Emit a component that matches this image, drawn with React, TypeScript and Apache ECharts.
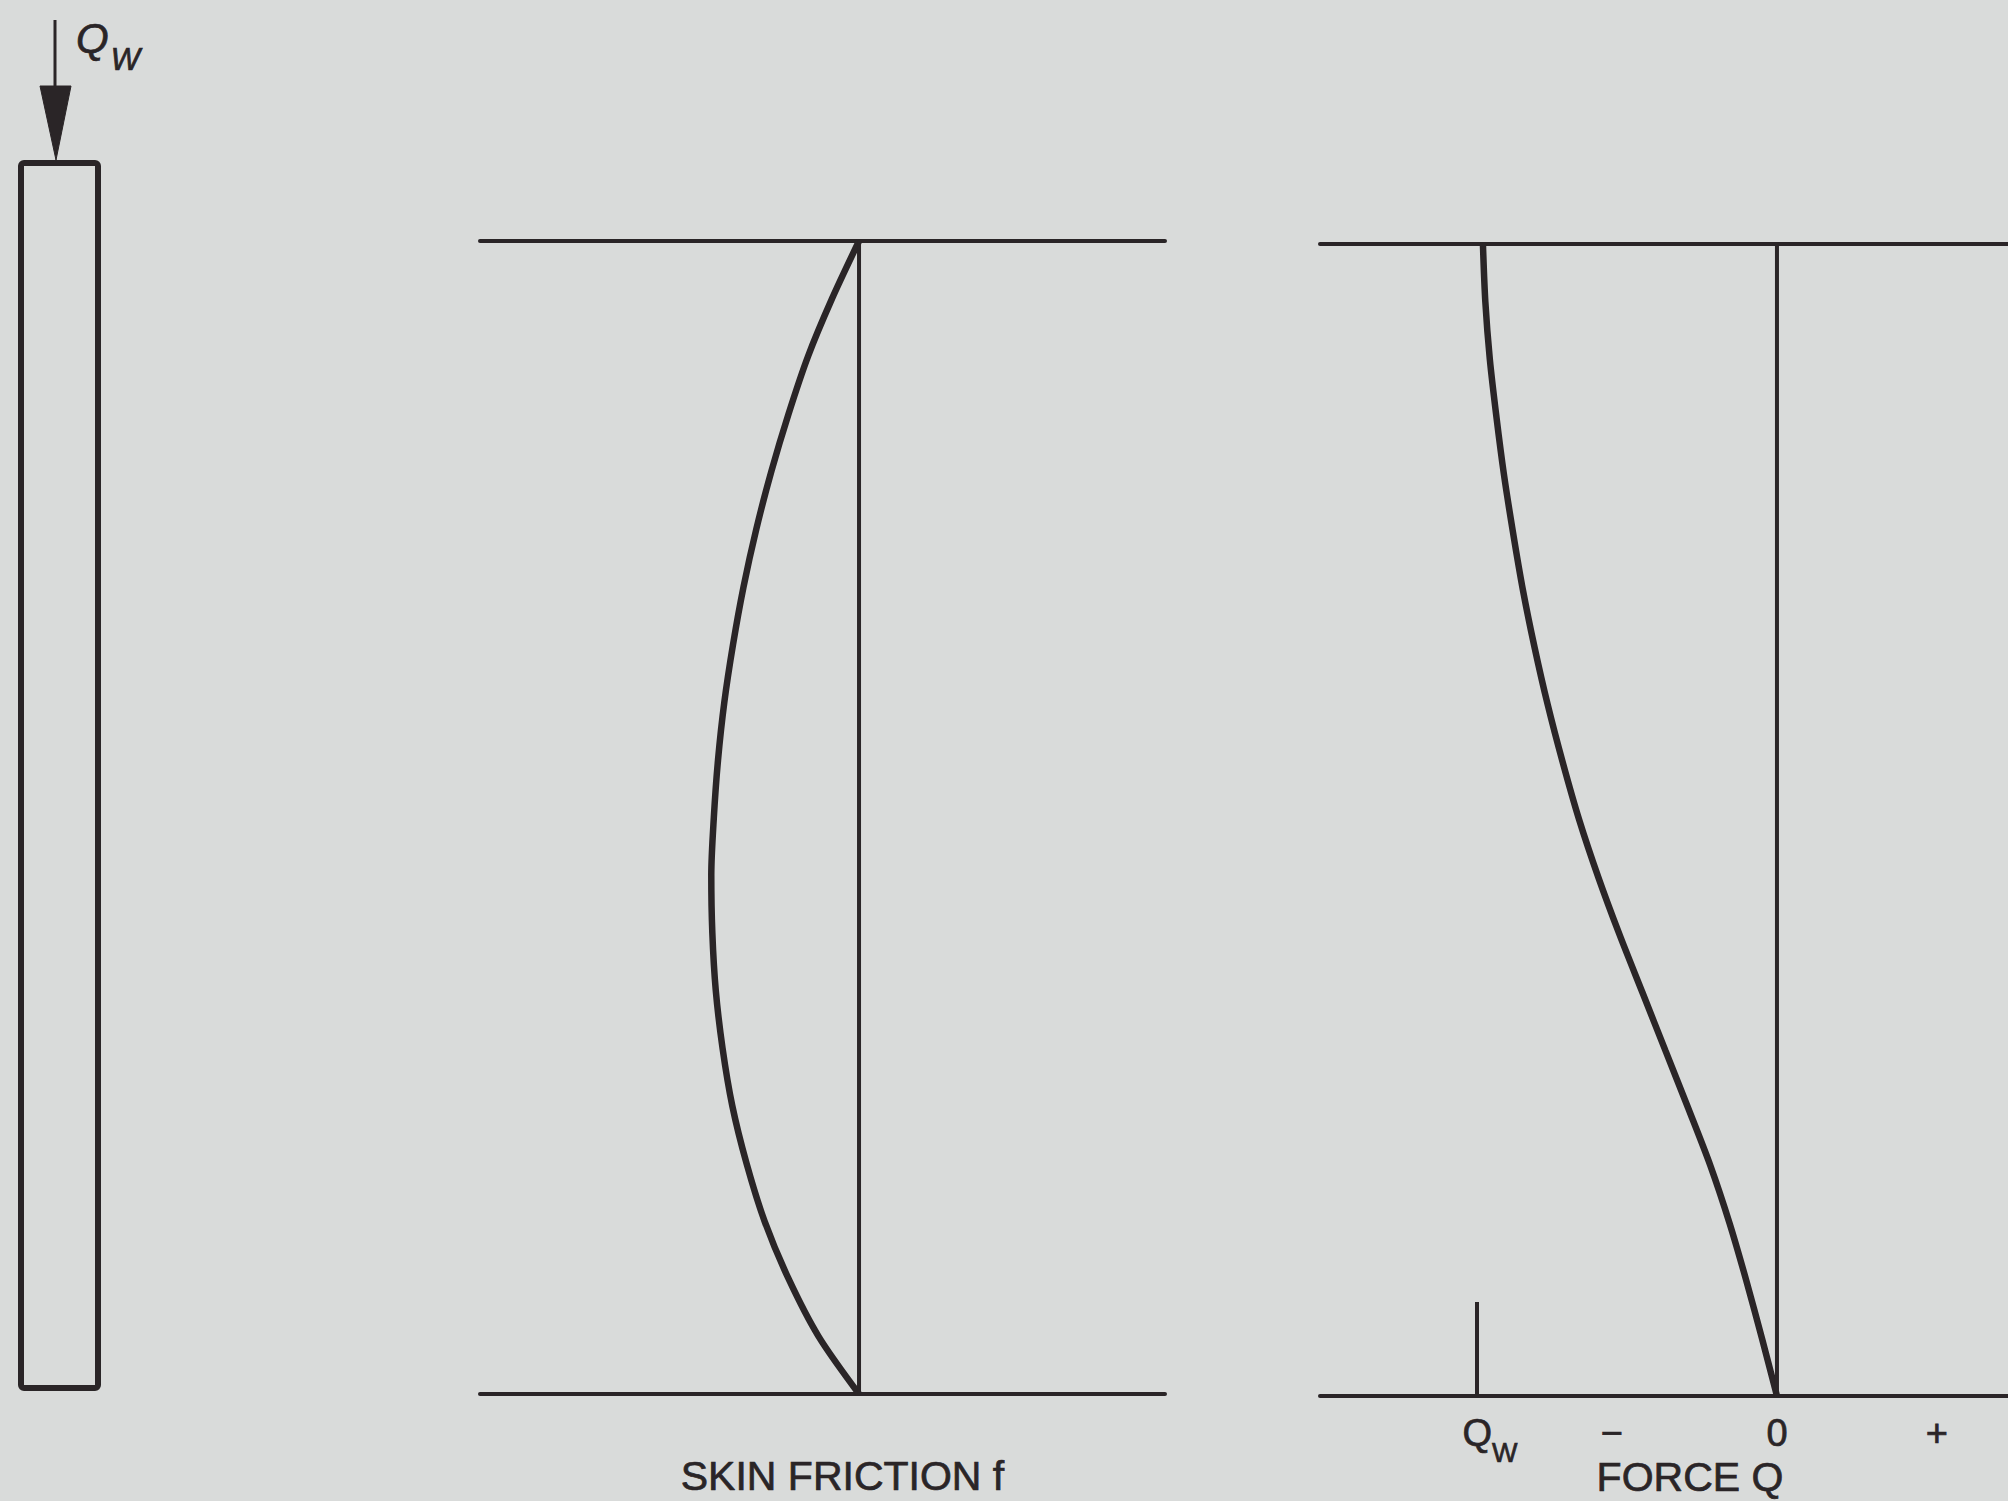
import React, { useEffect, useRef } from "react";
import * as echarts from "echarts";

// Depth along the pile, % of its length (0 = pile head)
const depth = [0, 5, 10, 15, 20, 25, 30, 35, 40, 45, 50, 55, 60, 65, 70, 75, 80, 85, 90, 95, 100];

// Skin friction f (relative units, drawn to the left of the zero line)
const skinFriction = [0, 0.18, 0.34, 0.47, 0.585, 0.685, 0.77, 0.84, 0.898, 0.94, 0.968, 0.985, 0.978, 0.955, 0.91, 0.845, 0.75, 0.63, 0.47, 0.27, 0];

// Axial force Q (relative units, Q_W = -1)
const forceValues = [-0.98, -0.972, -0.957, -0.935, -0.91, -0.88, -0.847, -0.808, -0.764, -0.714, -0.659, -0.595, -0.524, -0.448, -0.372, -0.296, -0.222, -0.158, -0.102, -0.05, 0];

// Reference (zero) lines
const zeroLine = [0, 0];
const zeroLineDepth = [0, 100];

// Force axis ticks and labels
const forceTickValues = [-1, -0.55, 0, 0.533];
const forceTickLabels = ["Q_W", "\u2212", "0", "+"];
const qwTickValues = [-1];

const INK = "#2a2527";
const BG = "#d9dbda";
const FONT = "'Liberation Sans', Arial, Helvetica, sans-serif";

export default function App() {
  const ref = useRef<HTMLDivElement | null>(null);

  useEffect(() => {
    if (!ref.current) return;
    const chart = echarts.init(ref.current, undefined, { renderer: "svg" });

    const zip = (xs: number[], ys: number[]) => xs.map((x, i) => [x, ys[i]]);

    const axisLineStyle = { color: INK, width: 4 };
    const textThick = { textBorderColor: INK, textBorderWidth: 0.7 };

    const option: any = {
      animation: false,
      backgroundColor: BG,
      grid: [
        { left: 480, top: 241, width: 685, height: 1153, containLabel: false, outerBoundsMode: "none" },
        { left: 1320, top: 244, width: 688, height: 1152, containLabel: false, outerBoundsMode: "none" },
      ],
      xAxis: [
        {
          gridIndex: 0,
          type: "value",
          position: "bottom",
          inverse: true,
          min: -2.04,
          max: 2.527,
          axisLine: { show: true, onZero: false, lineStyle: axisLineStyle },
          axisTick: { show: false },
          axisLabel: { show: false },
          splitLine: { show: false },
          name: "SKIN FRICTION f",
          nameLocation: "middle",
          nameGap: 61,
          nameMoveOverlap: false,
          nameTextStyle: {
            color: INK,
            fontFamily: FONT,
            fontSize: 41,
            padding: [0, 0, 0, 40],
            ...textThick,
          },
        },
        {
          gridIndex: 0,
          type: "value",
          position: "top",
          inverse: true,
          min: -2.04,
          max: 2.527,
          axisLine: { show: true, onZero: false, lineStyle: axisLineStyle },
          axisTick: { show: false },
          axisLabel: { show: false },
          splitLine: { show: false },
        },
        {
          gridIndex: 1,
          type: "value",
          position: "bottom",
          min: -1.523,
          max: 0.77,
          axisLine: { show: true, onZero: false, lineStyle: axisLineStyle },
          axisTick: {
            show: true,
            inside: true,
            length: 94,
            customValues: qwTickValues,
            lineStyle: { color: INK, width: 4 },
          },
          axisLabel: {
            show: true,
            customValues: forceTickValues,
            margin: 18,
            color: INK,
            fontFamily: FONT,
            fontSize: 38,
            ...textThick,
            formatter: (v: number) => {
              const i = forceTickValues.findIndex((t) => Math.abs(t - v) < 1e-6);
              if (i < 0) return "";
              const lab = forceTickLabels[i];
              if (lab === "Q_W") return "{q|Q}{w|W}";
              return lab;
            },
            rich: {
              q: { fontSize: 38, fontFamily: FONT, color: INK, padding: [0, 0, 14, 26], ...textThick },
              w: { fontSize: 27, fontFamily: FONT, color: INK, verticalAlign: "bottom", ...textThick },
            },
          },
          splitLine: { show: false },
          name: "FORCE Q",
          nameLocation: "middle",
          nameGap: 60,
          nameMoveOverlap: false,
          nameTextStyle: {
            color: INK,
            fontFamily: FONT,
            fontSize: 41,
            padding: [0, 0, 0, 52],
            ...textThick,
          },
        },
        {
          gridIndex: 1,
          type: "value",
          position: "top",
          min: -1.523,
          max: 0.77,
          axisLine: { show: true, onZero: false, lineStyle: axisLineStyle },
          axisTick: { show: false },
          axisLabel: { show: false },
          splitLine: { show: false },
        },
      ],
      yAxis: [
        { gridIndex: 0, type: "value", min: 0, max: 100, inverse: true, show: false },
        { gridIndex: 1, type: "value", min: 0, max: 100, inverse: true, show: false },
      ],
      series: [
        {
          type: "line",
          xAxisIndex: 0,
          yAxisIndex: 0,
          data: zip(skinFriction, depth),
          smooth: 0.3,
          symbol: "none",
          lineStyle: { color: INK, width: 6.5 },
          silent: true,
        },
        {
          type: "line",
          xAxisIndex: 0,
          yAxisIndex: 0,
          data: zip(zeroLine, zeroLineDepth),
          symbol: "none",
          lineStyle: { color: INK, width: 4 },
          silent: true,
        },
        {
          type: "line",
          xAxisIndex: 2,
          yAxisIndex: 1,
          data: zip(forceValues, depth),
          smooth: 0.3,
          symbol: "none",
          lineStyle: { color: INK, width: 6.5 },
          silent: true,
        },
        {
          type: "line",
          xAxisIndex: 2,
          yAxisIndex: 1,
          data: zip(zeroLine, zeroLineDepth),
          symbol: "none",
          lineStyle: { color: INK, width: 4 },
          silent: true,
        },
      ],
      graphic: [
        // pile
        {
          type: "rect",
          shape: { x: 21, y: 163, width: 77, height: 1225, r: 3 },
          style: { fill: "none", stroke: INK, lineWidth: 6 },
          silent: true,
        },
        // load arrow shaft
        {
          type: "line",
          shape: { x1: 55, y1: 20, x2: 55, y2: 100 },
          style: { stroke: INK, lineWidth: 3 },
          silent: true,
        },
        // arrow head
        {
          type: "polygon",
          shape: { points: [[40, 86], [71, 86], [56, 160]] },
          style: { fill: INK, stroke: INK, lineWidth: 1 },
          silent: true,
        },
        // load label
        {
          type: "text",
          x: 76,
          y: 17,
          style: {
            text: "{q|Q}{w|W}",
            rich: {
              q: { fontSize: 42, fontStyle: "italic", fontFamily: FONT, fill: INK, padding: [0, 2, 16, 0], stroke: INK, lineWidth: 0.7 },
              w: { fontSize: 31, fontStyle: "italic", fontFamily: FONT, fill: INK, verticalAlign: "bottom", stroke: INK, lineWidth: 0.7 },
            },
          },
          silent: true,
        },
      ],
    };

    chart.setOption(option);
    return () => {
      chart.dispose();
    };
  }, []);

  return (
    <div
      ref={ref}
      style={{ position: "absolute", left: 0, top: 0, width: 2008, height: 1501 }}
    />
  );
}
